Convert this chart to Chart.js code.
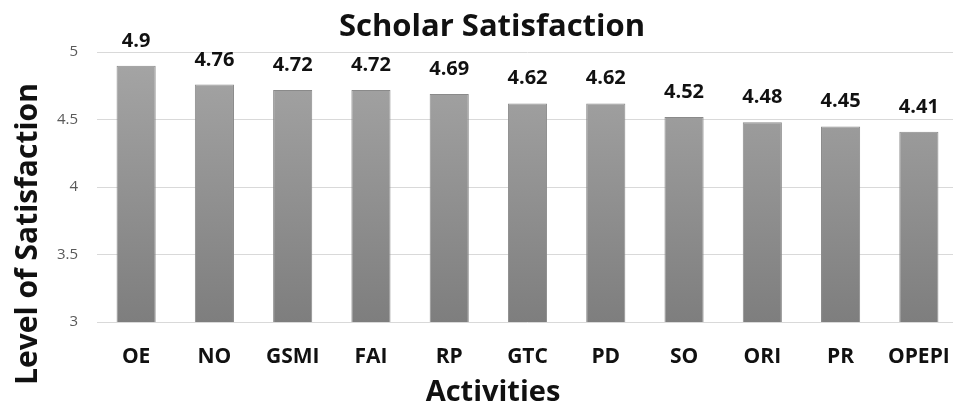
<!DOCTYPE html>
<html>
<head>
<meta charset="utf-8">
<script src="https://cdn.jsdelivr.net/npm/chart.js@4.4.1/dist/chart.umd.min.js"></script>
<style>
html,body{margin:0;padding:0;background:#fff;overflow:hidden;}
#wrap{position:relative;width:984px;height:410px;}
</style>
</head>
<body>
<div id="wrap"><canvas id="c"></canvas></div>
<script>
const categories = ['OE','NO','GSMI','FAI','RP','GTC','PD','SO','ORI','PR','OPEPI'];
const satisfaction = [4.9,4.76,4.72,4.72,4.69,4.62,4.62,4.52,4.48,4.45,4.41];
const yTicks = [3,3.5,4,4.5,5];
const chartTitle = 'Scholar Satisfaction';
const xTitle = 'Activities';
const yTitle = 'Level of Satisfaction';

const FONT = '"Open Sans", Lato, sans-serif';

const labelsPlugin = {
  id: 'extras',
  afterDatasetsDraw(chart) {
    const ctx = chart.ctx;
    const meta = chart.getDatasetMeta(0);
    ctx.save();
    ctx.fillStyle = '#111';
    ctx.font = 'bold 20px ' + FONT;
    ctx.textAlign = 'center';
    ctx.textBaseline = 'alphabetic';
    meta.data.forEach((bar, i) => {
      ctx.fillText(String(satisfaction[i]), bar.x, bar.y - 19);
    });
    ctx.restore();
  },
  afterDraw(chart) {
    const ctx = chart.ctx;
    ctx.save();
    ctx.fillStyle = '#111';
    ctx.textAlign = 'center';
    ctx.textBaseline = 'middle';
    ctx.font = 'bold 29px ' + FONT;
    ctx.fillText(xTitle, 493, 393, 142);
    ctx.translate(28, 234);
    ctx.rotate(-Math.PI / 2);
    ctx.font = 'bold 30px ' + FONT;
    ctx.fillText(yTitle, 0, 0, 310);
    ctx.restore();
  }
};

new Chart(document.getElementById('c'), {
  type: 'bar',
  data: {
    labels: categories,
    datasets: [{
      data: satisfaction,
      backgroundColor(context) {
        const chart = context.chart;
        const ca = chart.chartArea;
        if (!ca) return '#959595';
        const g = chart.ctx.createLinearGradient(0, ca.top, 0, ca.bottom);
        g.addColorStop(0, '#a6a6a6');
        g.addColorStop(1, '#7e7e7e');
        return g;
      },
      borderColor: '#8a8a8a',
      borderWidth: 1,
      categoryPercentage: 1,
      barPercentage: 0.5
    }]
  },
  options: {
    responsive: true,
    maintainAspectRatio: false,
    animation: false,
    layout: { padding: { top: 0, right: 0, bottom: 41, left: 0 } },
    plugins: {
      legend: { display: false },
      tooltip: { enabled: false },
      title: {
        display: true,
        text: chartTitle,
        color: '#111',
        font: { family: FONT, size: 31, weight: 'bold', lineHeight: 1.2 },
        padding: { top: 9, bottom: 6 }
      }
    },
    scales: {
      x: {
        grid: { display: false, drawTicks: false },
        border: { display: false },
        ticks: {
          color: '#111',
          font: { family: FONT, size: 21, weight: 'bold', lineHeight: 1.2 },
          padding: 22,
          maxRotation: 0,
          autoSkip: false
        },
        afterFit(scale) { scale.height = 47; }
      },
      y: {
        min: 3,
        max: 5,
        afterBuildTicks(scale) { scale.ticks = yTicks.map(v => ({ value: v })); },
        grid: { color: '#d9d9d9', lineWidth: 1, drawTicks: false },
        border: { display: false },
        ticks: {
          color: '#595959',
          font: { family: FONT, size: 15 },
          padding: 19,
          callback: v => String(v)
        },
        afterFit(scale) { scale.width = 97; }
      },
      yRight: {
        position: 'right',
        min: 3,
        max: 5,
        grid: { display: false, drawTicks: false },
        border: { display: false },
        ticks: { display: false },
        afterFit(scale) { scale.width = 26; }
      }
    }
  },
  plugins: [labelsPlugin]
});
</script>
</body>
</html>
